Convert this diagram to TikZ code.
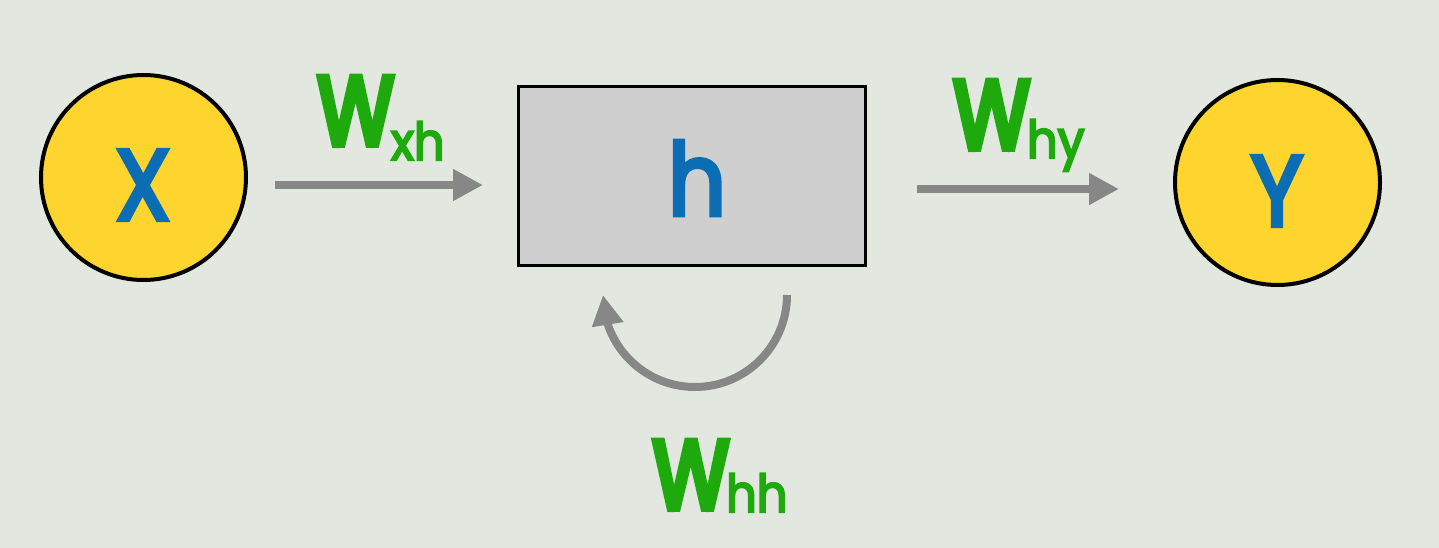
\documentclass[tikz,border=0pt]{standalone}
\usepackage{fontspec}
\setmainfont{Poppins}
\newfontfamily\wfont{Poppins}[FakeBold=6,FakeStretch=0.8]
\newfontfamily\subfont{Poppins}[FakeBold=4,FakeStretch=0.92]
\newfontfamily\lfont{Poppins}[FakeBold=4,FakeStretch=0.9]
\usetikzlibrary{arrows.meta,bending}
\definecolor{bg}{HTML}{E2E8E0}
\definecolor{ylw}{HTML}{FDD52E}
\definecolor{blu}{HTML}{0B6DB3}
\definecolor{grn}{HTML}{1EAA0C}
\definecolor{arr}{HTML}{878787}
\definecolor{boxfill}{HTML}{CFCFCF}
\newcommand{\wsub}[2]{\raisebox{#1}{\subfont\fontsize{52}{52}\selectfont #2}}
\begin{document}
\begin{tikzpicture}[x=1pt,y=-1pt,
  unit/.style={circle,draw=black,line width=4pt,fill=ylw,minimum size=205pt,inner sep=0pt},
  hbox/.style={draw=black,line width=3pt,fill=boxfill,minimum width=347pt,minimum height=179pt,inner sep=0pt},
  letter/.style={text=blu,font=\lfont\fontsize{101}{101}\selectfont,inner sep=0pt},
  wlabel/.style={text=grn,font=\wfont\fontsize{98}{98}\selectfont,inner sep=0pt,anchor=base},
  conn/.style={draw=arr,line width=8pt,-{Triangle[length=30pt,width=30pt]}},
  loopconn/.style={draw=arr,line width=8pt,-{Triangle[length=30pt,width=30pt,flex]}},
]
\fill[bg] (0,0) rectangle (1439,548);
\useasboundingbox (0,0) rectangle (1439,548);

\node[unit] (xc) at (143.5,177.5) {};
\node[unit] (yc) at (1277.5,182.5) {};
\node[hbox] (hb) at (692,176) {};

\node[letter] (xl) at (143,185) {X};
\node[letter] (yl) at (1277,191) {Y};
\node[letter] (hl) at (697,178) {h};

\draw[conn,shorten <=27pt,shorten >=34pt] ([yshift=-7.5pt]xc.east) -- ([yshift=-9pt]hb.west);
\draw[conn,shorten <=50pt,shorten >=54pt] ([yshift=-13pt]hb.east) -- ([yshift=-6.5pt]yc.west);
\coordinate (loopstart) at ([xshift=-80pt,yshift=-28pt]hb.south east);
\draw[loopconn] (loopstart) arc[start angle=0,end angle=-180,radius=92pt];

\node[wlabel] (wxh) at (381,145) {W\kern-3pt\wsub{-15pt}{xh}};
\node[wlabel] (why) at (1019,149) {W\kern-3pt\wsub{-9pt}{hy}};
\node[wlabel] (whh) at (720,509) {W\kern-3pt\wsub{-3pt}{hh}};
\end{tikzpicture}
\end{document}
